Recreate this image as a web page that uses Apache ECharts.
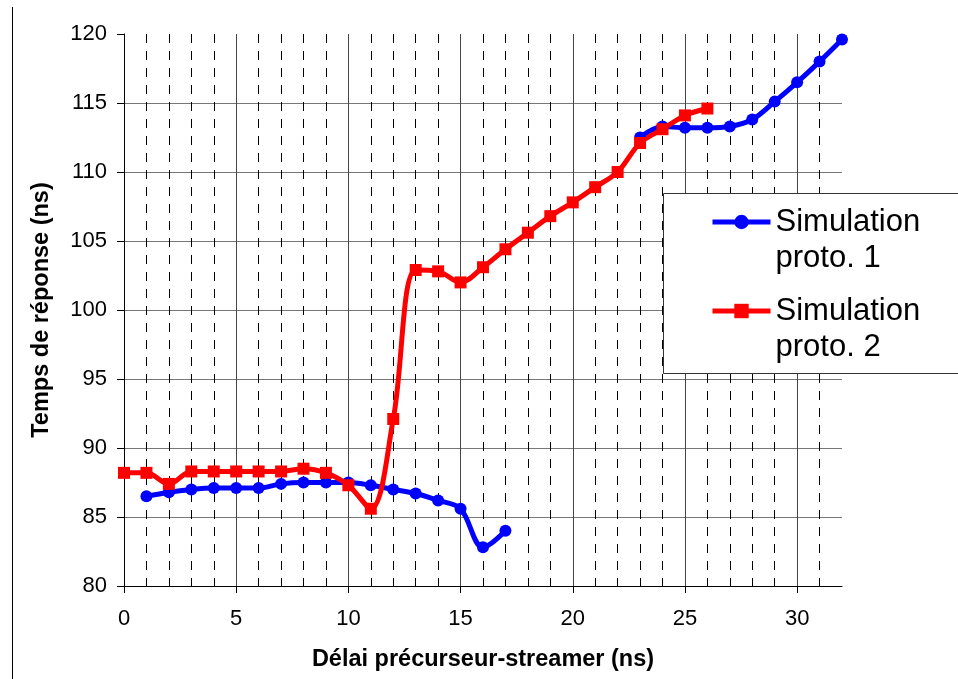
<!DOCTYPE html>
<html>
<head>
<meta charset="utf-8">
<script src="https://cdn.jsdelivr.net/npm/echarts@6/dist/echarts.min.js"></script>
<style>
html,body{margin:0;padding:0;background:#fff;}
#c{width:958px;height:679px;}
</style>
</head>
<body>
<div id="c"></div>
<script>
// Data
const xBlue = [1,2,3,4,5,6,7,8,9,10,11,12,13,14,15,16,17,18,19,20,21,22,23,24,25,26,27,28,29,30,31,32];
const yBlue = [86.5,86.8,87.0,87.1,87.1,87.1,87.4,87.5,87.5,87.5,87.3,87.0,86.7,86.2,85.6,82.8,84.0,null,null,null,null,null,112.5,113.3,113.2,113.2,113.3,113.8,115.1,116.5,118.0,119.6];
const xRed = [0,1,2,3,4,5,6,7,8,9,10,11,12,13,14,15,16,17,18,19,20,21,22,23,24,25,26];
const yRed = [88.2,88.2,87.4,88.3,88.3,88.3,88.3,88.3,88.5,88.2,87.3,85.6,92.1,102.9,102.8,102.0,103.1,104.4,105.6,106.8,107.8,108.9,110.0,112.1,113.1,114.1,114.6];
const seriesNames = ['Simulation proto. 1','Simulation proto. 2'];
const xMajorTicks = [0,5,10,15,20,25,30];
const xMinorTicks = [1,2,3,4,6,7,8,9,11,12,13,14,16,17,18,19,21,22,23,24,26,27,28,29,31];

const font = '"Liberation Sans", Arial, sans-serif';
const chart = echarts.init(document.getElementById('c'), null, {renderer:'canvas'});
const pairs = (xs, ys) => xs.map((x,i)=>[x, ys[i]]);

chart.setOption({
  animation:false,
  backgroundColor:'#fff',
  grid:{left:124, top:34, width:718, height:552, containLabel:false},
  xAxis:[{
    type:'value', min:0, max:32, interval:5, position:'bottom',
    name:'Délai précurseur-streamer (ns)', nameLocation:'middle', nameGap:62,
    nameTextStyle:{fontFamily:font, fontSize:23.5, fontWeight:'bold', color:'#000'},
    axisLine:{show:true, onZero:false, lineStyle:{color:'#000', width:1}},
    axisTick:{show:true, inside:false, length:7, customValues:xMajorTicks, lineStyle:{color:'#000'}},
    axisLabel:{fontFamily:font, fontSize:22, color:'#000', margin:22, customValues:xMajorTicks},
    splitLine:{show:true, showMinLine:true, showMaxLine:true, lineStyle:{color:'#444', width:1, type:'solid'}}
  },{
    type:'value', min:0, max:32, interval:1, position:'bottom',
    axisLine:{show:false},
    axisTick:{show:true, inside:true, length:6, customValues:xMinorTicks, lineStyle:{color:'#000'}},
    axisLabel:{show:false},
    splitLine:{show:true, showMinLine:true, showMaxLine:true, lineStyle:{color:'#000', width:1, type:[9,8]}}
  }],
  yAxis:{
    type:'value', min:80, max:120, interval:5,
    name:'Temps de réponse (ns)', nameLocation:'middle', nameGap:70,
    nameTextStyle:{fontFamily:font, fontSize:23.5, fontWeight:'bold', color:'#000'},
    axisLine:{show:true, onZero:false, lineStyle:{color:'#000', width:1}},
    axisTick:{show:true, inside:false, length:7, lineStyle:{color:'#000'}},
    axisLabel:{fontFamily:font, fontSize:22, color:'#000', margin:17},
    splitLine:{show:true, showMinLine:false, showMaxLine:false, lineStyle:{color:'#777', width:1}}
  },
  legend:{
    orient:'vertical', left:705, top:163, itemWidth:58, itemHeight:18, itemGap:-19,
    formatter:n=>' \n' + n.replace(' ', '\n'),
    textStyle:{fontFamily:font, fontSize:31, lineHeight:36, color:'#000'},
    lineStyle:{width:5},
    data:seriesNames, z:5
  },
  graphic:[
    {type:'rect', shape:{x:663.5, y:193.5, width:320, height:180}, style:{fill:'#fff', stroke:'#333', lineWidth:1}, z:3, silent:true},
    {type:'line', shape:{x1:12.5, y1:7, x2:12.5, y2:679}, style:{stroke:'#000', lineWidth:1}, z:3, silent:true}
  ],
  series:[{
    name:seriesNames[0], type:'line', xAxisIndex:0, data:pairs(xBlue,yBlue),
    smooth:0.35, connectNulls:false, symbol:'circle', symbolSize:12, showSymbol:true,
    lineStyle:{color:'#0000ff', width:5}, itemStyle:{color:'#0000ff'}, z:4
  },{
    name:seriesNames[1], type:'line', xAxisIndex:0, data:pairs(xRed,yRed),
    smooth:0.35, symbol:'rect', symbolSize:12, showSymbol:true,
    lineStyle:{color:'#ff0000', width:5}, itemStyle:{color:'#ff0000'}, z:4
  }]
});
</script>
</body>
</html>
